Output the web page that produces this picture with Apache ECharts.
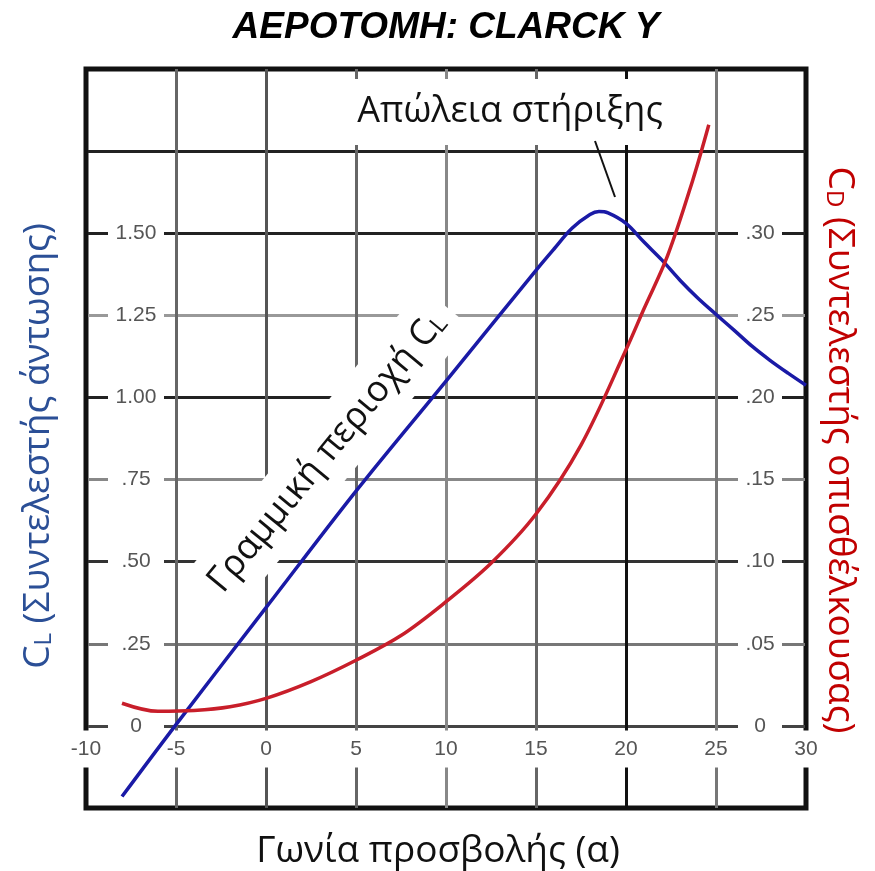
<!DOCTYPE html>
<html><head><meta charset="utf-8">
<script src="https://cdn.jsdelivr.net/npm/echarts@6/dist/echarts.min.js"></script>
<style>html,body{margin:0;padding:0;background:#fff}#c{width:875px;height:871px}</style>
</head><body><div id="c"></div><script>
// ---- data ----
const alphaCL = [-8, -5, 0, 5, 10, 15, 16, 17, 18, 18.5, 19, 20, 21, 22, 23, 24, 25, 26, 27, 28, 29, 30];
const valuesCL = [-0.215, 0.004, 0.36, 0.715, 1.05, 1.387, 1.452, 1.515, 1.557, 1.566, 1.562, 1.53, 1.473, 1.418, 1.357, 1.302, 1.253, 1.205, 1.156, 1.113, 1.074, 1.037];
const alphaCD = [-8, -6, -4, -2, 0, 2.5, 5, 7.5, 10, 12.5, 15, 17.5, 20, 21, 22.3, 23.7, 24.6];
const valuesCD = [0.0138, 0.0089, 0.0094, 0.0117, 0.0168, 0.027, 0.040, 0.055, 0.0756, 0.099, 0.129, 0.171, 0.229, 0.254, 0.286, 0.332, 0.366];
const clTickValues = [0, 0.25, 0.5, 0.75, 1.0, 1.25, 1.5];
const clTickLabels = ['0', '.25', '.50', '.75', '1.00', '1.25', '1.50'];
const cdTickValues = [0, 0.05, 0.10, 0.15, 0.20, 0.25, 0.30];
const cdTickLabels = ['0', '.05', '.10', '.15', '.20', '.25', '.30'];
const titleText = 'ΑΕΡΟΤΟΜΗ: CLARCK Y';
const xName = 'Γωνία προσβολής (α)';
const stallText = 'Απώλεια στήριξης';
const linearText = 'Γραμμική περιοχή C{s|L}';
const clName = 'C{s|L} (Συντελεστής άντωσης)';
const cdName = 'C{s|D} (Συντελεστής οπισθέλκουσας)';

// ---- build ----
const clData = alphaCL.map((a, i) => [a, valuesCL[i]]);
const cdData = alphaCD.map((a, i) => [a, valuesCD[i]]);
function lookup(vals, labs, v) {
  for (let i = 0; i < vals.length; i++) if (Math.abs(vals[i] - v) < 1e-6) return labs[i];
  return null;
}
const tickStyle = {backgroundColor: '#fff', fontFamily: 'Liberation Sans', fontSize: 21, color: '#555', align: 'center'};
const L = 86, T = 69, W = 720, H = 739;
const chart = echarts.init(document.getElementById('c'));
const option = {
  backgroundColor: '#fff',
  animation: false,
  grid: {left: L, top: T, width: W, height: H, show: true, borderColor: '#111', borderWidth: 5, backgroundColor: 'transparent', z: 0},
  xAxis: {
    type: 'value', min: -10, max: 30, interval: 5, z: 1,
    axisLine: {show: false}, axisTick: {show: false},
    splitLine: {show: true, lineStyle: {width: 3, color: ['#111', '#666', '#555', '#666', '#888', '#666', '#111', '#777', '#111']}},
    axisLabel: {inside: true, margin: 59, verticalAlign: 'middle', align: 'center',
      formatter: v => '{b|' + v + '}',
      rich: {b: Object.assign({}, tickStyle, {padding: [8, 4]})}}
  },
  yAxis: [{
    type: 'value', min: -0.25, max: 2.0, interval: 0.25, z: 1,
    axisLine: {show: false}, axisTick: {show: false},
    splitLine: {show: true, lineStyle: {width: 3, color: ['#111', '#444', '#777', '#333', '#888', '#222', '#999', '#222', '#222', '#111']}},
    axisLabel: {inside: true, margin: 50, align: 'center',
      formatter: v => { const s = lookup(clTickValues, clTickLabels, v); return s === null ? '' : '{b|' + s + '}'; },
      rich: {b: Object.assign({}, tickStyle, {width: 44, padding: [5, 6]})}}
  }, {
    type: 'value', min: -0.05, max: 0.40, interval: 0.05, position: 'right', z: 1,
    axisLine: {show: false}, axisTick: {show: false}, splitLine: {show: false},
    axisLabel: {inside: true, margin: 46, align: 'center',
      formatter: v => { const s = lookup(cdTickValues, cdTickLabels, v); return s === null ? '' : '{b|' + s + '}'; },
      rich: {b: Object.assign({}, tickStyle, {width: 36, padding: [5, 4]})}}
  }],
  series: [{
    type: 'line', data: clData, yAxisIndex: 0, showSymbol: false, smooth: 0.35, z: 3,
    lineStyle: {color: '#1a1aa6', width: 3.5}
  }, {
    type: 'line', data: cdData, yAxisIndex: 1, showSymbol: false, smooth: 0.35, z: 3,
    lineStyle: {color: '#c81e2a', width: 3.5}
  }],
  graphic: [
    {type: 'text', x: 446, y: 28, z: 5, style: {text: titleText, align: 'center', verticalAlign: 'middle', fontFamily: 'Liberation Sans', fontWeight: 'bold', fontStyle: 'italic', fontSize: 37, fill: '#000'}},
    {type: 'text', x: 438, y: 851, z: 5, style: {text: xName, align: 'center', verticalAlign: 'middle', fontFamily: 'Open Sans', fontSize: 37, fill: '#111'}},
    {type: 'text', x: 38, y: 446, rotation: Math.PI / 2, z: 5, style: {text: clName, align: 'center', verticalAlign: 'middle', fontFamily: 'Open Sans', fontSize: 37, fill: '#2b4f96',
      rich: {s: {fontFamily: 'Open Sans', fontSize: 24, fill: '#2b4f96', verticalAlign: 'bottom'}}}},
    {type: 'text', x: 840, y: 450, rotation: -Math.PI / 2, z: 5, style: {text: cdName, align: 'center', verticalAlign: 'middle', fontFamily: 'Open Sans', fontSize: 37, fill: '#c00000',
      rich: {s: {fontFamily: 'Open Sans', fontSize: 24, fill: '#c00000', verticalAlign: 'bottom'}}}},
    {type: 'text', x: 510, y: 112, z: 2, style: {text: stallText, align: 'center', verticalAlign: 'middle', fontFamily: 'Open Sans', fontSize: 36, fill: '#111', backgroundColor: '#fff', padding: [15, 12]}},
    {type: 'line', z: 2, shape: {x1: 595, y1: 141, x2: 615, y2: 197}, style: {stroke: '#111', lineWidth: 2}},
    {type: 'text', x: 327, y: 452, rotation: 50.5 * Math.PI / 180, z: 2, style: {text: linearText, align: 'center', verticalAlign: 'middle', fontFamily: 'Open Sans', fontSize: 36, fill: '#111', backgroundColor: '#fff', padding: [14, 12],
      rich: {s: {fontFamily: 'Open Sans', fontSize: 24, fill: '#111', verticalAlign: 'bottom'}}}}
  ]
};
chart.setOption(option);
</script></body></html>
